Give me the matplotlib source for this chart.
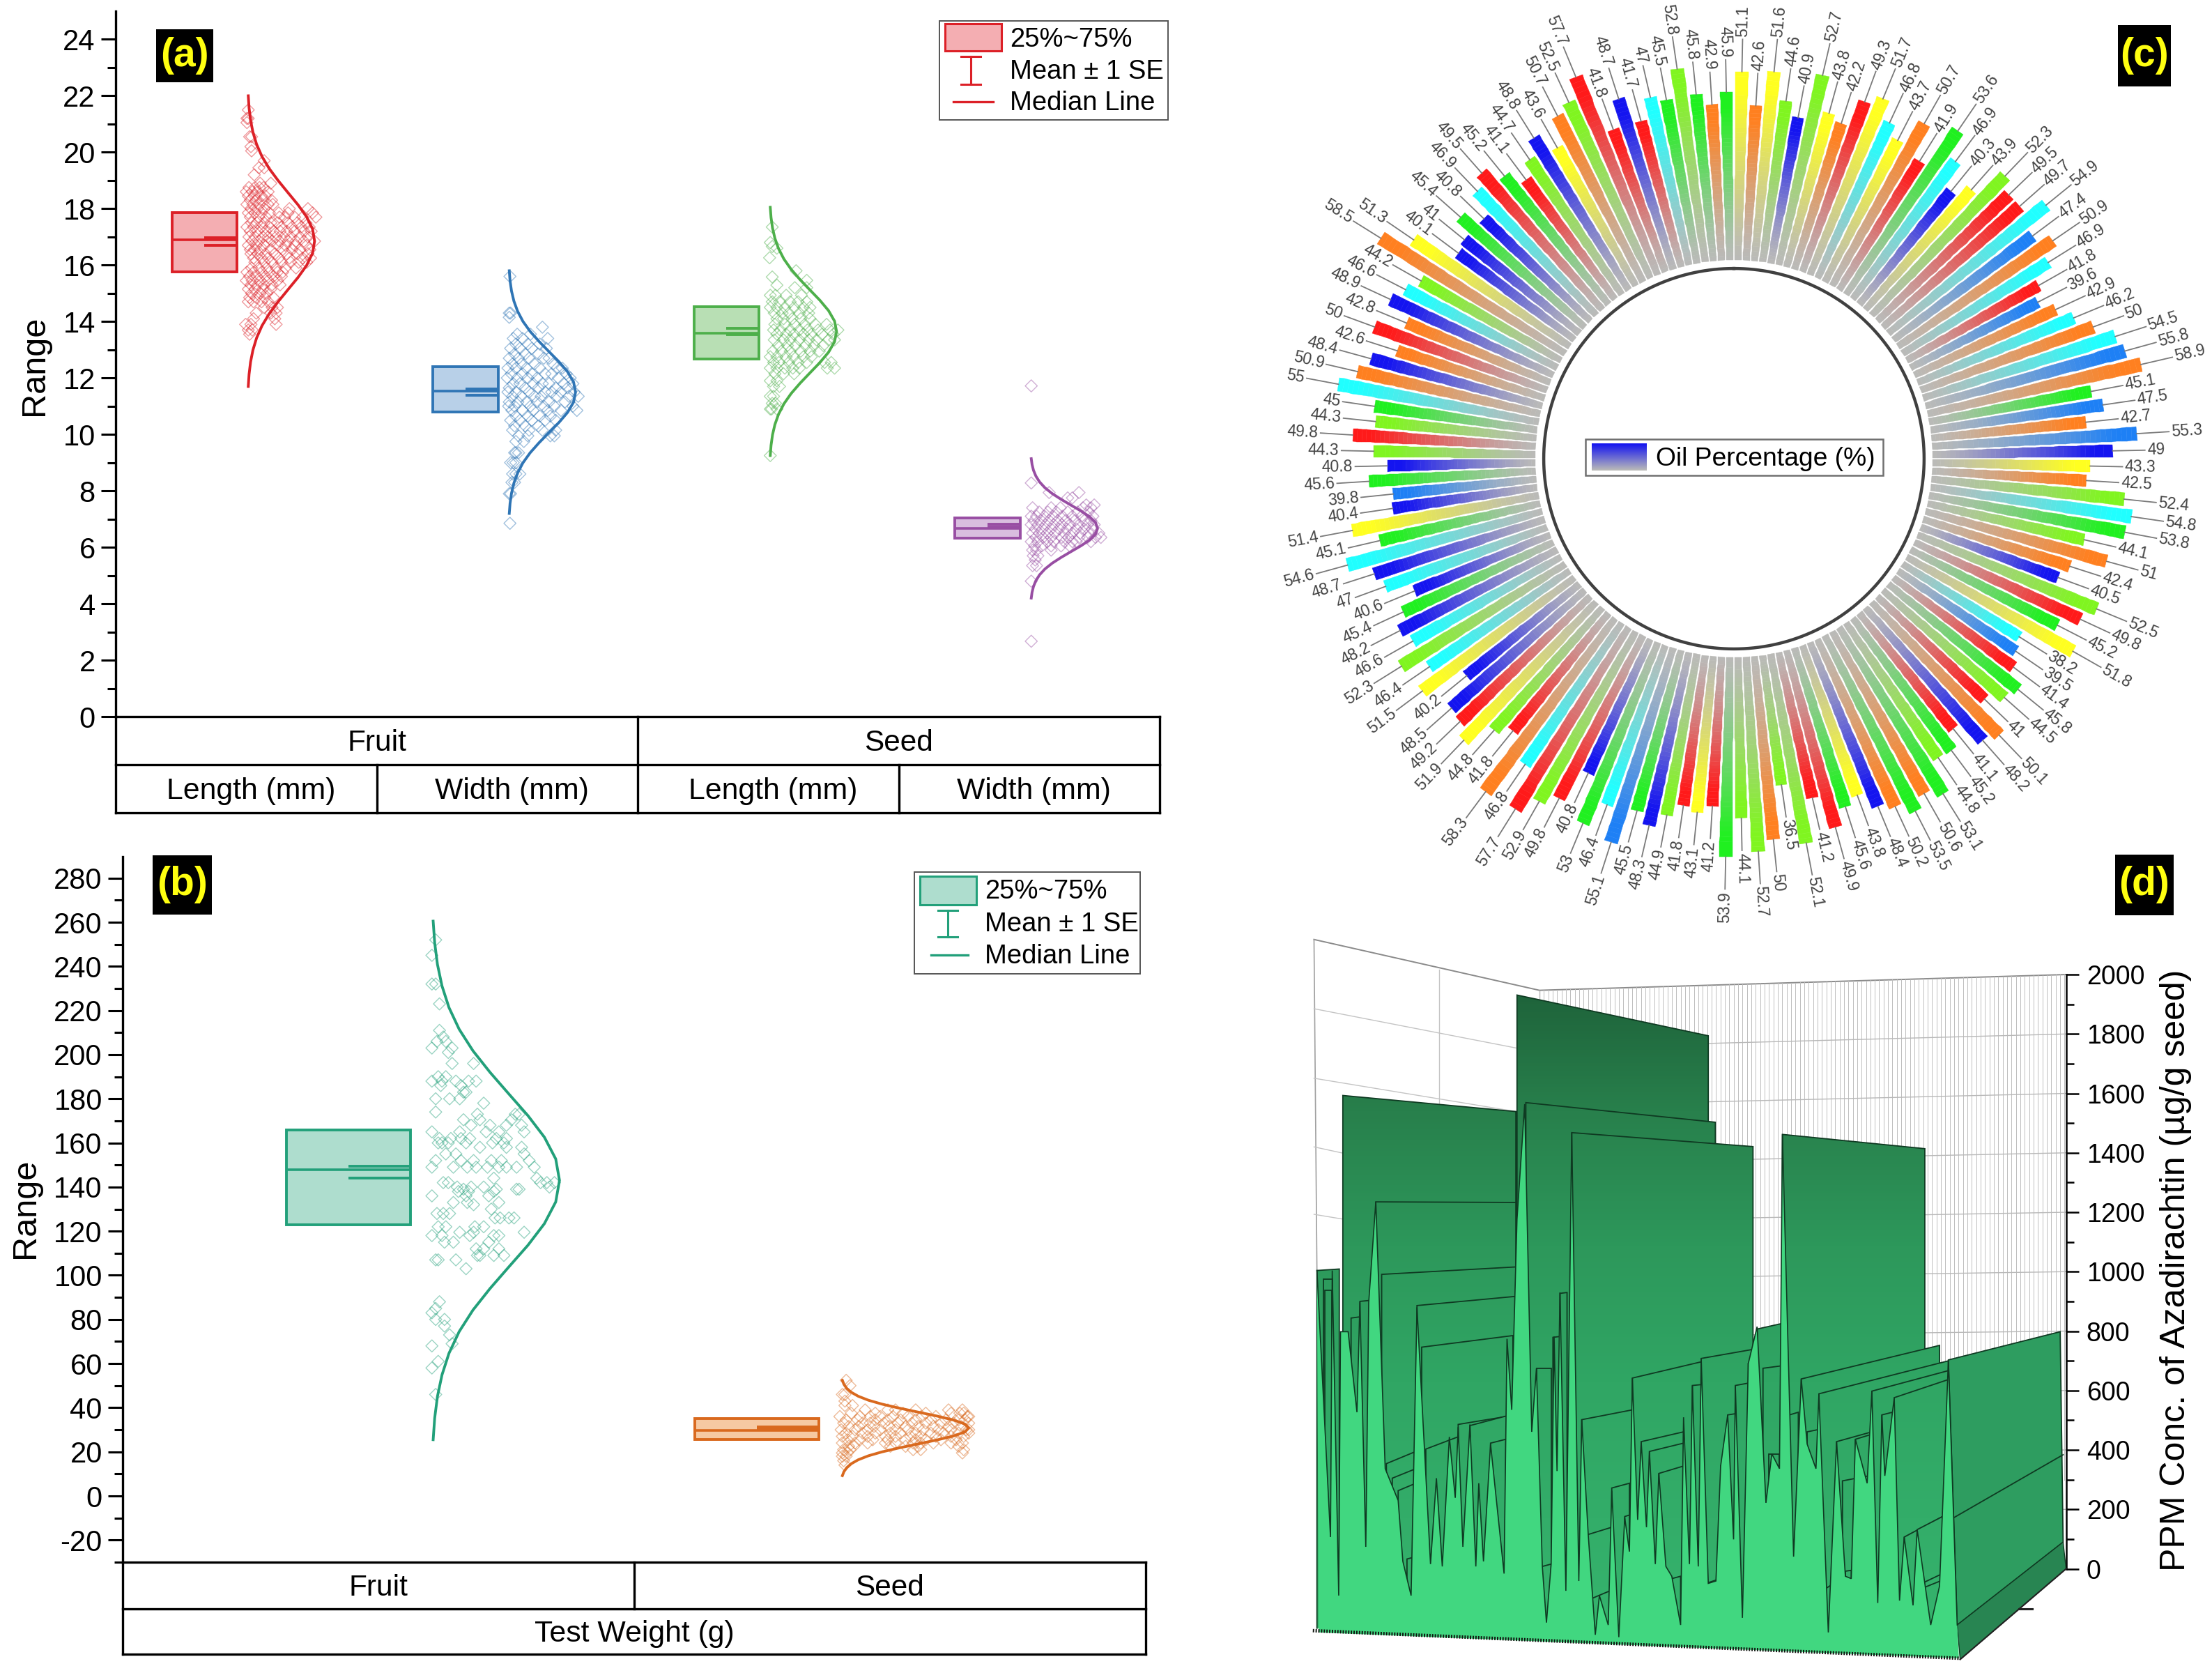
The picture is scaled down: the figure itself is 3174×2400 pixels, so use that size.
import numpy as np
import matplotlib
matplotlib.use("Agg")
import matplotlib.pyplot as plt
from matplotlib.patches import Rectangle, Polygon
from matplotlib.colors import LinearSegmentedColormap, to_rgb
from matplotlib.ticker import FixedLocator

plt.rcParams['font.family'] = ['Liberation Sans', 'DejaVu Sans']
W, H = 3174, 2400
DPI = 100
S = 3174 / 1568

# ---------- panel (a) data: (value, [position across the curve width])
a_groups = ['Length (mm)', 'Width (mm)', 'Length (mm)', 'Width (mm)']
a_parts = ['Fruit', 'Seed']
a_q1 = [15.75, 10.8, 12.68, 6.32]
a_q3 = [17.85, 12.4, 14.52, 7.04]
a_median = [16.9, 11.53, 13.58, 6.68]
a_se_hi = [16.97, 11.62, 13.76, 6.82]
a_se_lo = [16.7, 11.38, 13.54, 6.72]
a_curve_mid = [16.85, 11.5, 13.65, 6.67]
a_curve_half = [5.15, 4.3, 4.4, 2.47]
a_colors = ['#DC2027', '#2F75B5', '#4DAF4A', '#984EA3']
a_fills = ['#F4AEB2', '#B8D0E8', '#B8DFB4', '#D9BEDF']

curve_pos = [-1, -.917, -.833, -.75, -.667, -.583, -.5, -.417, -.333, -.25, -.167, -.083, 0,
             .083, .167, .25, .333, .417, .5, .583, .667, .75, .833, .917, 1]
curve_frac = [.0, .012, .034, .07, .125, .206, .315, .45, .6, .75, .88, .97, 1,
              .97, .88, .75, .6, .45, .315, .206, .125, .07, .034, .012, .0]

fruit_length_rows = [
 (21.5,[0.0]),(21.2,[0.0,-.02]),(21.05,[-.02]),(20.55,[.02,.05]),(20.2,[.04]),(20.05,[.05]),(19.7,[.24]),
 (19.45,[.16,.24]),(19.2,[.09]),(18.9,[.34,.18]),(18.75,[.01,.10,.17,.23]),(18.6,[-.03,.06,.14,.30]),
 (18.45,[0,.09,.20,.26]),(18.3,[.03,.12,.22,.35]),(18.15,[-.02,.07,.17,.30,.37]),(18.0,[.04,.14,.24,.62,.90]),
 (17.85,[0,.10,.20,.32,.46,.60,.97]),(17.7,[.03,.16,.27,.47,.55,.70,.82,1.02]),(17.5,[.05,.13,.24,.34,.44,.60,.74,.87]),
 (17.35,[-.02,.08,.20,.32,.50,.66,.80,.92]),(17.2,[.03,.14,.26,.38,.48,.58,.70,.84,.95]),(17.0,[.01,.10,.22,.30,.42,.54,.64,.78,.90]),
 (16.85,[.06,.16,.28,.36,.47,.60,.72,.84,1.0]),(16.7,[0,.12,.24,.44,.56,.70,.88]),(16.55,[.03,.09,.18,.34,.52,.66,.78,.93]),
 (16.4,[.04,.14,.26,.40,.58,.74,.90]),(16.25,[.08,.20,.30,.46,.62,.82,.94]),(16.1,[.10,.24,.36,.50,.64,.76,.88]),
 (15.9,[.05,.16,.28,.42,.56,.72]),(15.75,[-.02,.08,.20,.32,.44,.52]),(15.6,[.02,.13,.26,.38,.50]),(15.45,[-.03,.06,.18,.30,.44]),
 (15.3,[.04,.14,.24,.36,.48]),(15.15,[0,.10,.22,.34]),(15.0,[.05,.18,.28]),(14.85,[.02,.12,.25,.38]),(14.7,[.0,.08,.20,.30]),
 (14.5,[.24,.36,.44]),(14.3,[.12,.34,.42]),(14.1,[.08,.40]),(13.9,[-.04,.04,.42]),(13.7,[0,.06]),(13.55,[.02])]
fruit_width_rows = [
 (15.6,[.01]),(14.3,[0,.02]),(14.15,[.0]),(13.8,[.5]),(13.55,[.12,.32]),(13.4,[.06,.2,.58]),(13.2,[.1,.28,.46]),(13.05,[.02,.16,.34,.56]),
 (12.85,[.08,.24,.44]),(12.7,[0,.14,.3,.52,.6]),(12.5,[.05,.18,.38,.66]),(12.35,[-.02,.1,.26,.46,.72,.8]),(12.15,[.03,.2,.34,.54,.64,.86]),
 (12.0,[-.03,.12,.28,.42,.74,.92]),(11.8,[.06,.16,.36,.5,.6,.82,.96]),(11.65,[.0,.24,.44,.7,.88]),(11.5,[-.02,.1,.3,.54,.64,.78,.98]),
 (11.35,[.05,.18,.38,.48,.72,.9,1.04]),(11.15,[0,.13,.26,.42,.6,.84]),(11.0,[-.01,.08,.32,.52,.68,.96]),(10.85,[.04,.2,.36,.58,.78,1.02]),
 (10.65,[.1,.28,.46,.62]),(10.5,[.02,.16,.34,.54,.7]),(10.3,[.08,.24,.44]),(10.15,[.05,.3,.5,.7]),(9.95,[.14,.28,.62,.68]),(9.75,[.1,.22]),
 (9.35,[.08,.1,.14]),(9.0,[.02,.06,.1]),(8.6,[.05,.1,.16]),(8.3,[.04,.08]),(7.9,[.0,.02]),(6.85,[.01])]
seed_length_rows = [
 (17.35,[.03]),(16.8,[.0]),(16.66,[.03]),(16.6,[.1]),(16.26,[-.01]),(15.8,[.39]),(15.58,[.03]),(15.46,[.55]),(15.29,[.1]),(15.2,[.37,.55]),
 (14.93,[.0,.08,.24,.47]),(14.7,[.03,.14,.3,.42,.55]),(14.5,[.0,.1,.22,.36,.5,.6]),(14.3,[.06,.18,.28,.44,.58]),(14.1,[.1,.2,.33,.46,.6]),
 (13.9,[.07,.22,.37,.52,.68,.85]),(13.7,[.05,.15,.3,.44,.56,.72,.9,1.02]),(13.55,[.1,.24,.36,.5,.62,.78,.95]),(13.35,[.06,.2,.3,.44,.58,.7,.88,.97]),
 (13.15,[.12,.26,.38,.53,.66,.8]),(12.95,[.04,.17,.3,.46,.6,.74]),(12.75,[.0,.1,.24,.35,.5,.62]),(12.55,[.05,.13,.28,.42,.55,.82,.92]),
 (12.35,[.0,.1,.22,.34,.44,.86,.97]),(12.15,[.07,.2,.36]),(11.9,[.0,.1]),(11.7,[.05,.14]),(11.35,[.0,.05]),(11.1,[.03,.08]),(10.9,[.0,.02,.1]),(9.25,[.0])]
seed_width_rows = [
 (11.72,[0]),(8.28,[0]),(7.94,[.27,.72]),(7.75,[.55,.62]),(7.5,[.83,.95]),(7.4,[.02,.3,.44,.78,.9]),(7.25,[.12,.25,.38,.55,.7,.86]),
 (7.1,[.0,.08,.2,.33,.47,.62,.76,.93]),(6.95,[.04,.15,.27,.4,.52,.66,.8,.9]),(6.8,[.0,.1,.22,.34,.46,.58,.72,.85,.95]),
 (6.65,[.06,.17,.3,.42,.54,.68,.8,.92]),(6.5,[.02,.12,.24,.36,.5,.62,.74,.87,1.02]),(6.35,[.07,.18,.3,.46,.56,.72,.85,.97,1.05]),
 (6.2,[.0,.1,.24,.34,.5,.62,.68,.9]),(6.05,[.05,.16,.3,.45,.58]),(5.9,[.02,.08,.3]),(5.7,[.03,.1]),(5.55,[.06]),(5.35,[.02,.08]),(4.8,[.0]),(2.67,[0])]

# ---------- panel (b) data
b_q1 = [122.8, 25.6]
b_q3 = [166, 35.2]
b_median = [147.8, 29.8]
b_se_hi = [149.5, 31.3]
b_se_lo = [144, 30.4]
b_curve_mid = [143, 30.8]
b_curve_half = [117.5, 21.6]
b_colors = ['#22A07A', '#D9691E']
b_fills = ['#AEDDCE', '#F6C9A2']
fruit_weight_rows = [
 (252,[.02]),(245,[-.01]),(232,[-.01,.02]),(223,[.05]),(211,[.05]),(208,[.08]),(206,[.03,.10]),(203,[-.01,.15]),(201,[.12]),(196,[.15,.32]),
 (190,[.04,.10]),(188,[-.01,.07,.18,.28,.34]),(186,[.06,.22]),(183,[.24,.26]),(180,[.02,.13,.21]),(178,[.40]),(174,[.02]),(173,[.35,.65,.68]),
 (170.5,[.24,.37,.62]),(168,[.45,.30,.58,.70]),(165,[-.01,.21,.42,.52,.72]),(162,[.05,.14,.22,.29,.50,.58]),(160,[.04,.07,.12,.26,.47,.56]),
 (158,[.37,.58,.70]),(155,[.10,.18,.72]),(152,[.02,.22,.32,.46,.54,.76]),(149,[-.01,.16,.27,.34,.43,.52,.58,.66,.80]),(144,[.48,.82]),
 (142,[.08,.12,.85,.96,.90]),(140,[.19,.30,.40,.92]),(139,[.24,.50,.66,.68]),(138,[.20,.28,.48]),(136,[-.01,.26,.44]),(133,[.16,.27,.52]),(132,[.32]),
 (130,[.46]),(128,[.03,.08,.13]),(126,[.49,.53,.60,.64]),(122,[.04,.10,.33,.40]),(119.5,[.21,.32,.72]),(118,[-.01,.07,.29,.48,.52]),(115,[.09,.16,.44]),
 (112,[.34,.40,.52]),(109,[.35,.37,.48,.56]),(107,[.02,.04,.18]),(103,[.26]),(88,[.05]),(85,[.02]),(83,[-.01]),(80,[.02,.09]),(77,[.09]),(73,[.13]),
 (69,[.15]),(68,[-.01]),(61,[.04]),(58,[-.01]),(46,[.02])]
seed_weight_rows = [
 (52.4,[.03]),(50,[.06]),(46,[.0,.02]),(43,[.02]),(41,[.02,.08]),(39,[.18,.36,.42,.58,.84,.95]),(37.5,[.07,.26,.48,.66,.86,.93,.96]),
 (36,[-.02,.14,.22,.3,.4,.52,.63,.74,.99,1.0]),(34.5,[.03,.12,.26,.36,.46,.58,.7,.82,.92,.97]),(33,[.01,.16,.22,.33,.44,.55,.66,.78,.88,1.0]),
 (31.5,[.05,.13,.25,.37,.5,.6,.72,.84,.94]),(30,[-.01,.1,.2,.3,.42,.52,.64,.76,.86,.98,1.0]),(28.5,[.03,.16,.26,.38,.46,.58,.7,.8,.92,1.0]),
 (27,[.0,.08,.2,.34,.42,.54,.62,.74,.86,.96]),(25.5,[.04,.14,.24,.36,.5,.58,.66,.78,.9]),(24,[.0,.1,.2,.34,.42,.56,.62,.72,.86,.95]),
 (22.5,[.05,.09,.38,.5,.6,.92]),(21,[.01,.06,.56,.62,.96]),(19.5,[.0,.04,.95]),(18,[.0,.03]),(16,[.01]),(14,[.02])]

# ---------- panel (c) data, clockwise from the top
oil_values = [51.1,42.6,51.6,44.6,40.9,52.7,43.8,42.2,49.3,51.7,46.8,43.7,50.7,41.9,53.6,46.9,40.3,43.9,52.3,49.5,49.7,54.9,47.4,50.9,46.9,41.8,39.6,42.9,46.2,50,54.5,55.8,58.9,45.1,47.5,42.7,55.3,
 49,43.3,42.5,52.4,54.8,53.8,44.1,51,42.4,40.5,52.5,49.8,45.2,51.8,38.2,39.5,41.4,45.8,44.5,41,50.1,48.2,41.1,45.2,44.8,53.1,50.6,53.5,50.2,48.4,43.8,45.6,49.9,41.2,52.1,36.5,50,52.7,44.1,
 53.9,41.2,43.1,41.8,44.9,48.3,45.5,55.1,46.4,53,40.8,49.8,52.9,57.7,46.8,58.3,41.8,44.8,51.9,49.2,48.5,40.2,51.5,46.4,52.3,46.6,48.2,45.4,40.6,47,48.7,54.6,45.1,51.4,40.4,39.8,45.6,40.8,
 44.3,49.8,44.3,45,55,50.9,48.4,42.6,50,42.8,48.9,46.6,44.2,58.5,51.3,40.1,41,45.4,40.8,46.9,49.5,45.2,41.1,44.7,48.8,43.6,50.7,52.5,57.7,41.8,48.7,41.7,47,45.5,52.8,45.8,42.9,45.9]
oil_colour_keys = list("YOYVBVYORYCYORGCBYVRRCLOCRLOCOCLOGLOL"
                       "BYOVCGVOOBVRGYCLRGVROBRGVGOGOBYGRRVVOVV"
                       "GRYRVBGLCGBRVRCORVYRBBYCVCBGBCBCGYBLGB"
                       "VRVGCOBOROBCVOYBBGBCRGRVBYOVRRBRCGVGOG")
oil_palette = {'R':'#FF1A1A','B':'#1414F0','L':'#1E80F5','C':'#20FFFF','G':'#20F020','V':'#80F520','Y':'#FFFF20','O':'#FF8020'}

# ---------- panel (d) data: horizontal position on the chart, height in ppm
front_x = [47,70,73,84,87,100,115,120,130,135,147,163,185,193,207,217,240,250,260,272,282,287,295,307,317,322,330,342,365,370,378,387,400,412,420,430,437,445,450,455,460,470,480,492,497,508,520,527,542,548,560,570,578,583,592,598,607,612,622,628,640,650,665,670,680,685,695,700,712,725,733,745,755,758,770,780,795,810,820,833,838,857,870,880,895,900,916,930,945,955,962,982,990,1000,1007,1012,1028,1037,1045,1060,1067,1090,1105,1120,1135]
front_ppm = [1004,107,1004,-90,798,798,527,897,74,897,1235,337,230,25,-90,880,16,305,8,444,239,477,74,486,8,288,25,420,-16,774,535,1177,1564,461,675,8,-181,16,782,329,930,-74,1468,-41,502,115,-222,-90,-189,263,-230,173,58,642,165,428,140,395,16,321,8,-25,-189,510,16,617,8,708,-49,-41,346,518,99,617,-165,691,815,222,387,337,1462,41,639,420,337,589,-214,428,-25,-33,436,288,598,-115,518,313,576,-107,107,-123,132,-189,-58,700,-189]
# panels back to front: x start, x end, ppm at start, ppm at end
panels = [
 (91,385,1593,1539),(147,385,1235,1233),(157,385,991,1016),(217,385,886,917),(225,380,746,785),
 (47,85,1004,1009),(58,73,976,976),(60,72,938,938),(105,120,844,848),(120,145,900,905),(135,142,560,565),
 (165,215,354,395),(175,215,305,337),(185,215,263,288),(200,215,33,41),
 (232,385,403,518),(287,385,486,518),(307,370,482,515),(342,368,423,436),
 (387,712,1931,1794),(402,724,1569,1503),(480,788,1468,1421),(795,838,807,826),
 (583,795,642,741),(700,795,708,741),(420,445,675,675),(448,460,779,782),(460,472,927,930),
 (497,583,502,535),(507,548,115,140),(548,578,272,288),(570,578,176,181),
 (598,670,428,461),(612,670,395,423),(628,670,321,346),(515,545,-99,-74),(430,445,8,16),
 (685,700,617,620),(733,745,346,349),(745,758,518,522),(758,780,617,625),(780,795,691,696),
 (650,665,-33,-25),(708,725,-49,-38),
 (838,1080,1462,1414),(805,836,675,683),(815,833,387,387),(850,865,518,527),
 (870,1105,639,752),(900,1120,589,700),(990,1120,598,667),(1028,1120,576,637),
 (880,900,461,469),(930,990,428,461),(962,990,436,453),(1007,1025,518,527),(940,985,296,313),
 (1045,1115,107,181),(1067,1115,132,181),(1075,1110,-49,-16),(1075,1110,-66,-38),(912,925,-66,-49),(945,955,-8,-5)]
right_block_x = [1120,1310,1315,1135]
right_block_ppm = [703,798,90,-189]
right_band_x = [1135,1315,1320,1140]
right_band_ppm = [-189,90,0,-305]


def rows_to_xy(rows):
    vals = [v for v, fs in rows for _ in fs]
    fracs = [f for _, fs in rows for f in fs]
    return np.array(vals, float), np.array(fracs, float)


fig = plt.figure(figsize=(W / DPI, H / DPI), dpi=DPI, facecolor='white')


def px_axes(l, t, w, h, **kw):
    return fig.add_axes([l / W, 1 - (t + h) / H, w / W, h / H], **kw)


def box_group(ax, xc, halfw, q1, q3, med, hi, lo, col, fill, base, width, mid, half, rows):
    ax.add_patch(Rectangle((xc - halfw, q1), 2 * halfw, q3 - q1, facecolor=fill, edgecolor=col, lw=2.8, zorder=3))
    ax.plot([xc - halfw, xc + halfw], [med, med], color=col, lw=2.6, zorder=4, solid_capstyle='butt')
    ax.plot([xc, xc + halfw], [hi, hi], color=col, lw=2.8, zorder=4, solid_capstyle='butt')
    ax.plot([xc, xc + halfw], [lo, lo], color=col, lw=2.8, zorder=4, solid_capstyle='butt')
    v, f = rows_to_xy(rows)
    ax.scatter(base + width * f, v, marker='D', s=78, facecolors='none', edgecolors=col, linewidths=1.0, alpha=.45, zorder=2)
    ax.plot(base + width * np.array(curve_frac), mid + half * np.array(curve_pos), color=col, lw=2.8, zorder=5)


def style_left(ax):
    for s in ['top', 'right', 'bottom']:
        ax.spines[s].set_visible(False)
    ax.spines['left'].set_linewidth(2.4)
    ax.set_xticks([])
    ax.tick_params(axis='y', which='major', length=15, width=2.2, labelsize=30, pad=6)
    ax.tick_params(axis='y', which='minor', length=9, width=2.2)


def table_line(ax, xs, ys):
    ax.plot(xs, ys, color='black', lw=2.4, clip_on=False, solid_capstyle='projecting', zorder=6)


# ---------- panel (a)
axa = px_axes(166, 16, 1498, 1012)
axa.set_xlim(.5, 4.5)
axa.set_ylim(0, 25)
style_left(axa)
axa.set_yticks(np.arange(0, 25, 2))
axa.yaxis.set_minor_locator(FixedLocator(np.arange(1, 25, 2)))
for i, rows in enumerate([fruit_length_rows, fruit_width_rows, seed_length_rows, seed_width_rows]):
    c = i + 1
    box_group(axa, c - .16, .125, a_q1[i], a_q3[i], a_median[i], a_se_hi[i], a_se_lo[i], a_colors[i], a_fills[i],
              c + .008, .254, a_curve_mid[i], a_curve_half[i], rows)
for y in [0, -1.7, -3.4]:
    table_line(axa, [.5, 4.5], [y, y])
for x in [.5, 2.5, 4.5]:
    table_line(axa, [x, x], [0, -3.4])
for x in [1.5, 3.5]:
    table_line(axa, [x, x], [-1.7, -3.4])
for x, t in zip([1.5, 3.5], a_parts):
    axa.text(x, -.95, t, ha='center', va='center', fontsize=30.5, clip_on=False)
for i, t in enumerate(a_groups):
    axa.text(i + 1.019, -2.65, t, ha='center', va='center', fontsize=30.8, clip_on=False)
axa.set_ylabel('Range', fontsize=35, va='center')
axa.yaxis.set_label_coords(-.078, .498)

# ---------- panel (b)
axb = px_axes(176, 1229, 1468, 1012)
axb.set_xlim(.5, 2.5)
axb.set_ylim(-30, 289.7)
style_left(axb)
axb.set_yticks(np.arange(-20, 281, 20))
axb.yaxis.set_minor_locator(FixedLocator(np.arange(-30, 281, 20)))
axb.set_yticklabels([str(v) for v in range(-20, 281, 20)])
for i, (xc, base, rows) in enumerate([(.941, 1.107, fruit_weight_rows), (1.74, 1.907, seed_weight_rows)]):
    box_group(axb, xc, .1214, b_q1[i], b_q3[i], b_median[i], b_se_hi[i], b_se_lo[i], b_colors[i], b_fills[i],
              base, .247, b_curve_mid[i], b_curve_half[i], rows)
unit_b = 319.7 / 500
for y in [-30, -30 - 33 * unit_b, -30 - 65 * unit_b]:
    table_line(axb, [.5, 2.5], [y, y])
for x in [.5, 2.5]:
    table_line(axb, [x, x], [-30, -30 - 65 * unit_b])
table_line(axb, [1.5, 1.5], [-30, -30 - 33 * unit_b])
axb.text(1, -30 - 18.5 * unit_b, 'Fruit', ha='center', va='center', fontsize=30.5, clip_on=False)
axb.text(2, -30 - 18.5 * unit_b, 'Seed', ha='center', va='center', fontsize=30.5, clip_on=False)
axb.text(1.5, -30 - 51 * unit_b, 'Test Weight (g)', ha='center', va='center', fontsize=30.8, clip_on=False)
axb.set_ylabel('Range', fontsize=35, va='center')
axb.yaxis.set_label_coords(-.095, .502)

# ---------- panel (d)
axd = px_axes(1850, 1300, 1324, 1100)
axd.set_xlim(0, 1568)
axd.set_ylim(-350.6, 2230)
axd.patch.set_visible(False)
for s in ['top', 'left', 'bottom']:
    axd.spines[s].set_visible(False)
axd.spines['right'].set_position(('data', 1320))
axd.spines['right'].set_bounds(0, 2000)
axd.spines['right'].set_linewidth(1.8)
axd.yaxis.tick_right()
axd.set_xticks([])
axd.set_yticks(np.arange(0, 2001, 200))
axd.yaxis.set_minor_locator(FixedLocator(np.arange(100, 2000, 200)))
axd.tick_params(axis='y', which='major', length=13, width=1.8, labelsize=27, pad=8)
axd.tick_params(axis='y', which='minor', length=8, width=1.8)
axd.text(1506, 1004, 'PPM Conc. of Azadirachtin (µg/g seed)', rotation=90, ha='center', va='center', fontsize=36)
# walls
axd.add_patch(Polygon([(42, 2118), (425, 1947), (425, 900), (47, 900)], closed=True, facecolor='white', edgecolor='none', zorder=.5))
grid_c = '#C4C4C4'
axd.plot([42, 425, 1320], [2118, 1947, 2000], color='#8A8A8A', lw=1.4, zorder=1)
axd.plot([42, 47], [2118, 1004], color='#A0A0A0', lw=1.2, zorder=1)
axd.plot([425, 425], [1947, 1000], color='#A0A0A0', lw=1.0, zorder=1)
axd.plot([255, 255], [2016, 1000], color=grid_c, lw=1.0, zorder=1)
for x0, y0, x1, y1 in [(42, 1885, 385, 1753), (42, 1651, 385, 1539), (42, 1420, 91, 1399), (42, 1193, 91, 1177)]:
    axd.plot([x0, x1], [y0, y1], color=grid_c, lw=1.0, zorder=1)
for x in np.arange(425, 1320, 7.5):
    top = 1947 + (x - 425) / 895 * 53
    axd.plot([x, x], [top, 300], color='#BDBDBD', lw=.7, zorder=1)
for p in range(0, 2000, 200):
    axd.plot([425, 1320], [p * .974, p], color='#B8B8B8', lw=1.0, zorder=1)

panel_cmap = LinearSegmentedColormap.from_list('pan', ['#36B56E', '#33AD69', '#30A664', '#2D985B', '#28804C', '#1D5F38'])
grad = np.linspace(1, 0, 256)[:, None]
z = 2
for x0, x1, p0, p1 in panels:
    poly = Polygon([(x0, p0), (x1, p1), (x1, -200), (x0, -200)], closed=True, transform=axd.transData, facecolor='none', edgecolor='none')
    im = axd.imshow(grad, cmap=panel_cmap, extent=(0, 1568, -300, 2000), aspect='auto', origin='upper', vmin=0, vmax=1, zorder=z, interpolation='bilinear')
    im.set_clip_path(poly)
    axd.plot([x0, x0, x1, x1], [-200, p0, p1, -200], color='#0F3A22', lw=1.3, zorder=z + .1, solid_joinstyle='miter')
    z += .2
axd.set_xlim(0, 1568)
axd.set_ylim(-350.6, 2230)
axd.fill(right_block_x, right_block_ppm, facecolor='#2E9D60', edgecolor='#0F3A22', lw=1.3, zorder=z)
axd.plot([1130, 1315], [173, 384], color='#0F3A22', lw=1.3, zorder=z + .1)
axd.fill(right_band_x, right_band_ppm, facecolor='#288552', edgecolor='#0F3A22', lw=1.0, zorder=z)
z += .2
fx = front_x + [1138, 50]
fy = front_ppm + [-301, -214]
axd.fill(fx, fy, facecolor='#41D780', edgecolor='none', zorder=z)
axd.plot(front_x, front_ppm, color='#0F3A22', lw=1.2, zorder=z + .1, solid_joinstyle='miter')
axd.plot([40, 1138], [-208, -301], color='#101510', lw=3.5, ls=(0, (.4, .4)), zorder=z + .2)
axd.plot([1140, 1320], [-305, 0], color='#222222', lw=1.5, zorder=z + .2)
axd.plot([1240, 1262], [-135, -135], color='#222222', lw=2.2, zorder=z + .2)

# ---------- panel (c)
R_PX = (80 + 47.2) * 5.65
axc = px_axes(2488 - R_PX, 658 - R_PX, 2 * R_PX, 2 * R_PX, projection='polar')
axc.set_theta_zero_location('N')
axc.set_theta_direction(-1)
axc.set_rorigin(-47.2)
axc.set_ylim(0, 80)
axc.set_axis_off()
axc.patch.set_visible(False)
n = len(oil_values)
step = 2 * np.pi / n
grey = np.array(to_rgb('#BABAB8'))
for i, (v, key) in enumerate(zip(oil_values, oil_colour_keys)):
    th = (i + .5) * step
    col = np.array(to_rgb(oil_palette[key]))
    r_edges = np.linspace(3.3, v, 41)
    t = (r_edges[:-1] + r_edges[1:]) / 2
    t = np.clip((t - 3.3) / (v - 3.3) / .9, 0, 1) ** 1.25
    rgb = grey[None, :] + (col - grey)[None, :] * t[:, None]
    rgba = np.concatenate([rgb, np.ones((len(t), 1))], axis=1)[:, None, :]
    axc.pcolormesh([th - step * .41, th + step * .41], r_edges, rgba, shading='flat', edgecolors='face', linewidth=.3, antialiased=True)
    axc.plot([th, th], [v, v + 8.2], color='#7A7A7A', lw=1.3, clip_on=False)
    d = np.degrees(th)
    if d < 180:
        rot, ha = 90 - d, 'left'
    else:
        rot, ha = 270 - d, 'right'
    axc.text(th, v + 8.8, f'{v:g}', rotation=rot, rotation_mode='anchor', ha=ha, va='center', fontsize=16.5, color='#424242')
tt = np.linspace(0, 2 * np.pi, 721)
axc.plot(tt, np.full_like(tt, 1.1), color='#404040', lw=3.2)
axc.set_ylim(0, 80)
axc.set_rorigin(-47.2)

# ---------- overlay for legends and panel tags
ov = fig.add_axes([0, 0, 1, 1], zorder=20)
ov.set_xlim(0, W)
ov.set_ylim(H, 0)
ov.axis('off')
ov.patch.set_visible(False)


def legend(x0, y0, x1, y1, col, fill, swx0, swx1, swy0, swy1, ibx, iby0, iby1, lx0, lx1, ly, tx, t_y):
    ov.add_patch(Rectangle((x0 * S, y0 * S), (x1 - x0) * S, (y1 - y0) * S, facecolor='white', edgecolor='#555555', lw=1.4))
    ov.add_patch(Rectangle((swx0 * S, swy0 * S), (swx1 - swx0) * S, (swy1 - swy0) * S, facecolor=fill, edgecolor=col, lw=2.2))
    ov.plot([ibx * S, ibx * S], [iby0 * S, iby1 * S], color=col, lw=2.2)
    for yy in (iby0, iby1):
        ov.plot([(ibx - 7) * S, (ibx + 7) * S], [yy * S, yy * S], color=col, lw=2.2)
    ov.plot([lx0 * S, lx1 * S], [ly * S, ly * S], color=col, lw=2.4)
    for yy, tx_s in zip(t_y, ['25%~75%', 'Mean ± 1 SE', 'Median Line']):
        ov.text(tx * S, yy * S, tx_s, fontsize=27.5, va='center', ha='left')


legend(666, 15, 828, 85, a_colors[0], a_fills[0], 670, 710, 17, 36, 688, 40, 60, 676, 704, 72, 716, [28, 51, 73])
legend(648, 618, 808, 690, b_colors[0], b_fills[0], 652, 692, 621, 641, 672, 645, 664, 660, 686, 677, 698, [632, 655, 678])

# centre legend of (c)
ov.add_patch(Rectangle((2275, 630), 427, 52, facecolor='white', edgecolor='#707070', lw=1.8))
sw = np.stack([np.linspace(to_rgb('#1414F0')[k], grey[k], 32) for k in range(3)], axis=1)[:, None, :]
ov.imshow(sw, extent=(2284, 2363, 675, 636), aspect='auto', zorder=3, interpolation='bilinear')
ov.text(2376, 658, 'Oil Percentage (%)', fontsize=26.8, va='center', ha='left', zorder=4)
ov.set_xlim(0, W)
ov.set_ylim(H, 0)

for tag, x0, y0, x1, y1 in [('(a)', 224, 42, 306, 118), ('(b)', 219, 1227, 304, 1312), ('(c)', 3039, 36, 3115, 124), ('(d)', 3035, 1226, 3119, 1313)]:
    ov.add_patch(Rectangle((x0, y0), x1 - x0, y1 - y0, facecolor='black', edgecolor='none', zorder=5))
    ov.text((x0 + x1) / 2, (y0 + y1) / 2, tag, color='#FFFF10', fontsize=41, fontweight='bold', ha='center', va='center', zorder=6)

fig.savefig('out.png', dpi=DPI)
